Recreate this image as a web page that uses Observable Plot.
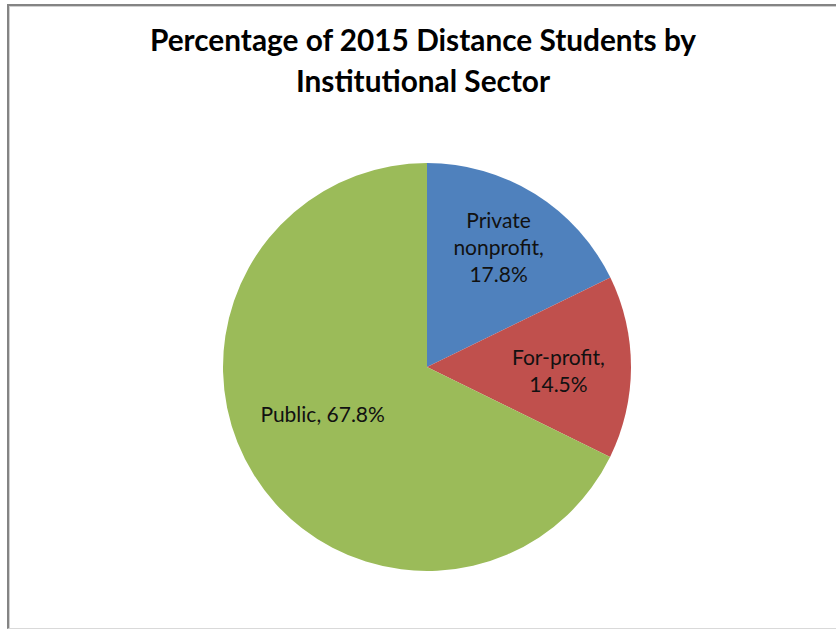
<!DOCTYPE html>
<html>
<head>
<meta charset="utf-8">
<script src="https://cdn.jsdelivr.net/npm/d3@7"></script>
<script src="https://cdn.jsdelivr.net/npm/@observablehq/plot@0.6"></script>
<style>
  html, body { margin: 0; padding: 0; background: #fff; }
  #wrap { position: relative; width: 836px; height: 629px; overflow: hidden; background: #fff; }
  #frame { position: absolute; left: 7px; top: 4px; width: 840px; height: 622px;
           border-top: 2px solid #848484; border-left: 2px solid #848484; border-bottom: 1px solid #d9d9d9;
           box-shadow: inset 1px 1px 0 #d0d0d0; pointer-events: none; }
  #title { height: 130px; box-sizing: border-box; padding-top: 19px; text-align: center;
           font-family: Lato, "Open Sans", sans-serif; font-weight: bold; font-size: 29.8px;
           line-height: 41px; color: #000; padding-left: 10px; }
  #chart svg { display: block; }
</style>
</head>
<body>
<div id="wrap">
  <div id="title">Percentage of 2015 Distance Students by<br>Institutional Sector</div>
  <div id="chart"></div>
  <div id="frame"></div>
</div>
<script>
// Data
const categories = ["Private nonprofit", "For-profit", "Public"];
const shares = [17.8, 14.5, 67.8];
const colors = ["#4F81BD", "#C0504D", "#9BBB59"];

// Label layout (radius fraction and angle tweak in degrees per slice)
const labelLayout = [{r: 0.688, da: -1.6}, {r: 0.642, da: 1.1}, {r: 0.562, da: 8.1}];

const pie = d3.pie().sort(null).value(d => d.share)(
  categories.map((c, i) => ({category: c, share: shares[i], color: colors[i], i}))
);

const labelText = d => {
  const v = d.share.toFixed(1) + "%";
  if (d.category === "Private nonprofit") return "Private\nnonprofit,\n" + v;
  if (d.category === "For-profit") return "For-profit,\n" + v;
  return d.category + ", " + v;
};

const labels = pie.map(p => {
  const L = labelLayout[p.data.i];
  const a = (p.startAngle + p.endAngle) / 2 + L.da * Math.PI / 180;
  return {x: L.r * Math.sin(a), y: L.r * Math.cos(a), text: labelText(p.data)};
});

function pieMark(index, scales) {
  const cx = scales.x(0), cy = scales.y(0);
  const R = scales.x(1) - scales.x(0);
  const g = d3.create("svg:g").attr("transform", `translate(${cx},${cy})`);
  const arc = d3.arc().innerRadius(0).outerRadius(R);
  g.selectAll("path").data(pie).join("path")
    .attr("d", arc)
    .attr("fill", d => d.data.color);
  return g.node();
}

const chart = Plot.plot({
  width: 836,
  height: 499,
  marginLeft: 223,
  marginRight: 205,
  marginTop: 33,
  marginBottom: 58,
  x: {domain: [-1, 1], axis: null},
  y: {domain: [-1, 1], axis: null},
  style: {background: "transparent"},
  marks: [
    pieMark,
    Plot.text(labels, {
      x: "x", y: "y", text: "text",
      fontSize: 21, fontFamily: "Lato, 'Open Sans', sans-serif",
      lineHeight: 1.27, fill: "#111", textAnchor: "middle"
    })
  ]
});
document.getElementById("chart").appendChild(chart);
</script>
</body>
</html>
